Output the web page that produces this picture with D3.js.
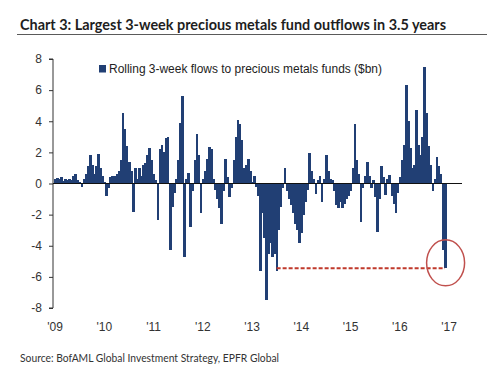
<!DOCTYPE html>
<html>
<head>
<meta charset="utf-8">
<script src="https://cdn.jsdelivr.net/npm/d3@7"></script>
<style>
  body { margin: 0; background: #fff; }
  svg { display: block; }
</style>
</head>
<body>
<script>
// Rolling 3-week flows, one value per half month from Jan 2009 ($bn)
const flows = [
  0.3, 0.35, 0.3, 0.4, 0.15, 0.3, 0.25, 0.3, 0.2, 0.45,
  0.6, 0.2, 0.1, -0.2, 0.3, 0.6, 1.1, 1.8, 1.2, 0.6,
  1.1, 1.9, 1.0, 0.5, 0.1, -0.8, -0.3, 0.4, 0.5, 0.45,
  0.6, 0.8, 1.5, 4.5, 3.5, 2.4, 1.4, 0.8, -1.8, 1.0,
  0.3, 1.0, 0.5, 1.2, 1.3, 1.8, 2.3, 1.5, 0.6, 0.2,
  -2.35, 2.2, 2.5, 2.0, 2.9, 3.0, -4.3, -1.5, -0.6, 0.3,
  1.5, 3.9, 5.6, -4.7, 0.3, 0.7, -2.8, -0.5, 1.5, 3.2,
  1.8, -1.9, 0.3, 0.8, 1.6, 2.35, 2.2, 0.3, -0.4, -1.0,
  -1.6, -2.6, -0.5, 1.6, 0.4, -0.85, -0.3, 1.5, 3.0, 4.05,
  3.8, 2.8, 1.0, 1.2, 1.6, 0.8, 0.1, 0.5, -0.2, -0.8,
  -5.6, -1.9, -3.5, -7.5, -4.5, -3.8, -4.7, -4.5, -5.6, -3.0,
  -1.5, -0.3, 1.0, -0.5, -1.0, -1.4, -1.9, -2.6, -3.0, -3.8,
  -3.2, -2.0, -1.2, -0.4, 1.95, 0.8, 0.3, -0.65, 0.2, 0.5,
  -1.2, 0.3, 1.85, 0.8, 0.3, 0.2, -0.5, -1.4, -1.55, -1.2,
  -1.6, -1.3, -1.0, -0.8, -0.5, 1.0, 3.8, 1.5, 0.6, -2.45,
  -0.3, 0.5, 1.4, 0.5, -0.3, 0.2, -0.85, -3.1, -1.0, 1.1,
  0.4, -0.75, 0.3, 0.55, -0.8, -1.3, -1.9, -0.6, 0.4, 1.5,
  2.5, 6.3, 4.0, 2.3, 1.0, 1.2, 4.7, 2.5, 1.8, 3.0,
  7.5, 4.5, 2.4, 1.2, -0.45, 0.3, 1.7, 1.1, 0.6, -4.3,
  -5.45
];

const startYear = 2009;
const periodsPerYear = 24;
const previousLowIndex = 108; // mid 2013 outflow of similar size

const yTicks = [-8, -6, -4, -2, 0, 2, 4, 6, 8];
const xTickYears = [2009, 2010, 2011, 2012, 2013, 2014, 2015, 2016, 2017];
const xTickLabels = ["'09", "'10", "'11", "'12", "'13", "'14", "'15", "'16", "'17"];

const title = "Chart 3: Largest 3-week precious metals fund outflows in 3.5 years";
const legendLabel = "Rolling 3-week flows to precious metals funds ($bn)";
const source = "Source: BofAML Global Investment Strategy, EPFR Global";

const width = 500;
const height = 381;
const barColor = "#213f74";
const red = "#c0392b";

const svg = d3
  .select("body")
  .append("svg")
  .attr("width", width)
  .attr("height", height);

// scales
const xScale = d3.scaleLinear().domain([2009, 2017]).range([55, 449]);
const yScale = d3.scaleLinear().domain([-8, 8]).range([308, 59]);

const yearOf = (i) => startYear + i / periodsPerYear;
const step = xScale(yearOf(1)) - xScale(yearOf(0));

// title
svg
  .append("text")
  .attr("x", 20)
  .attr("y", 30)
  .attr("font-family", "Lato, sans-serif")
  .attr("font-weight", "bold")
  .attr("font-size", "14.5px")
  .attr("fill", "#1e1e1e")
  .attr("textLength", 426)
  .attr("lengthAdjust", "spacingAndGlyphs")
  .text(title);

svg
  .append("line")
  .attr("x1", 17)
  .attr("x2", 487)
  .attr("y1", 34.5)
  .attr("y2", 34.5)
  .attr("stroke", "#5a5a5a")
  .attr("stroke-width", 1.2);

// y axis
const yAxis = svg
  .append("g")
  .attr("transform", "translate(53,0)")
  .call(d3.axisLeft(yScale).tickValues(yTicks).tickSize(4).tickPadding(7).tickFormat((d) => String(d)));

yAxis.select(".domain").attr("stroke", "#333").attr("d", `M-4,${yScale(8)}H0V${yScale(-8)}H-4`);
yAxis.selectAll(".tick line").attr("stroke", "#333");
yAxis
  .selectAll(".tick text")
  .attr("font-family", "'Liberation Sans', Arial, sans-serif")
  .attr("font-size", "12px")
  .attr("fill", "#333");

// x labels (no axis line in the original)
svg
  .append("g")
  .selectAll("text")
  .data(xTickYears)
  .join("text")
  .attr("x", (d) => xScale(d))
  .attr("y", 331)
  .attr("text-anchor", "middle")
  .attr("font-family", "'Liberation Sans', Arial, sans-serif")
  .attr("font-size", "12px")
  .attr("fill", "#333")
  .text((d, i) => xTickLabels[i]);

// bars
svg
  .append("g")
  .attr("shape-rendering", "crispEdges")
  .selectAll("rect")
  .data(flows)
  .join("rect")
  .attr("x", (d, i) => xScale(yearOf(i)) - step / 2)
  .attr("width", step + 0.6)
  .attr("y", (d) => yScale(Math.max(0, d)))
  .attr("height", (d) => Math.abs(yScale(d) - yScale(0)))
  .attr("fill", barColor);

// zero line
svg
  .append("line")
  .attr("x1", 53)
  .attr("x2", 462)
  .attr("y1", yScale(0))
  .attr("y2", yScale(0))
  .attr("stroke", "#111")
  .attr("stroke-width", 1);

// legend
svg
  .append("rect")
  .attr("x", 99)
  .attr("y", 65)
  .attr("width", 7)
  .attr("height", 7.5)
  .attr("fill", barColor);

svg
  .append("text")
  .attr("x", 109)
  .attr("y", 73)
  .attr("font-family", "'Liberation Sans', Arial, sans-serif")
  .attr("font-size", "12px")
  .attr("fill", "#222")
  .attr("textLength", 273)
  .attr("lengthAdjust", "spacingAndGlyphs")
  .text(legendLabel);

// annotation: dashed line back to the 2013 low + circle
const last = flows.length - 1;
svg
  .append("line")
  .attr("x1", xScale(yearOf(previousLowIndex)))
  .attr("x2", xScale(yearOf(last)))
  .attr("y1", yScale(flows[last]))
  .attr("y2", yScale(flows[last]))
  .attr("stroke", red)
  .attr("stroke-width", 2)
  .attr("stroke-dasharray", "4,2");

svg
  .append("ellipse")
  .attr("cx", xScale(yearOf(last)) + 0.7)
  .attr("cy", yScale(flows[last] + 0.35))
  .attr("rx", 19)
  .attr("ry", 23)
  .attr("fill", "none")
  .attr("stroke", "#c0504d")
  .attr("stroke-width", 1.5);

// source
svg
  .append("text")
  .attr("x", 20)
  .attr("y", 362)
  .attr("font-family", "Lato, sans-serif")
  .attr("font-size", "11px")
  .attr("fill", "#333")
  .attr("textLength", 259)
  .attr("lengthAdjust", "spacingAndGlyphs")
  .text(source);
</script>
</body>
</html>
